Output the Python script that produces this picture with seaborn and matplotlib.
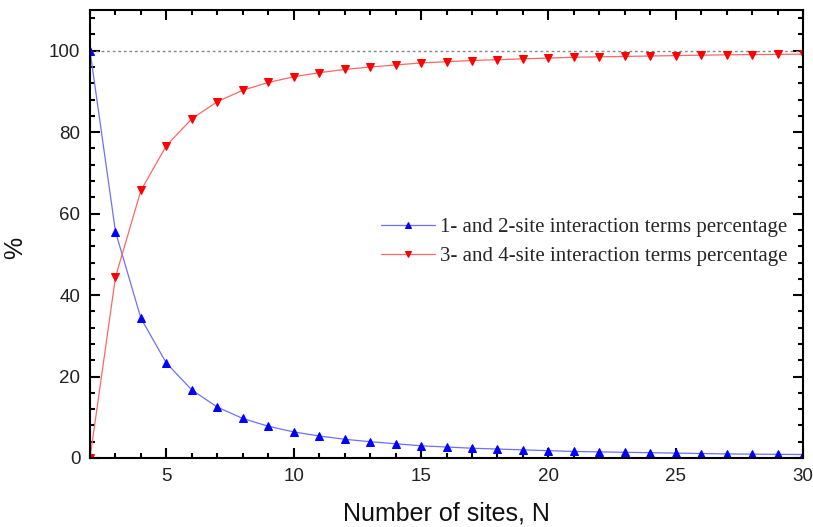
import matplotlib
matplotlib.use("Agg")
import matplotlib.pyplot as plt
import seaborn as sns
import pandas as pd
from matplotlib.ticker import MultipleLocator

sites = list(range(2, 31))
pct_12 = [100.0, 55.6, 34.3, 23.3, 16.7, 12.5, 9.7, 7.8, 6.4, 5.4, 4.6, 4.0, 3.5, 3.0,
          2.7, 2.4, 2.2, 2.0, 1.8, 1.6, 1.5, 1.4, 1.3, 1.2, 1.1, 1.0, 0.95, 0.9, 0.85]
pct_34 = [0.0, 44.4, 65.7, 76.7, 83.3, 87.5, 90.3, 92.2, 93.6, 94.6, 95.4, 96.0, 96.5, 97.0,
          97.3, 97.6, 97.8, 98.0, 98.2, 98.4, 98.5, 98.6, 98.7, 98.8, 98.9, 99.0, 99.05, 99.1, 99.15]
label_12 = "1- and 2-site interaction terms percentage"
label_34 = "3- and 4-site interaction terms percentage"

df = pd.DataFrame({"N": sites, "a": pct_12, "b": pct_34})

sns.set_style("ticks")
plt.rcParams['font.family'] = ['Liberation Sans', 'DejaVu Sans']

fig = plt.figure(figsize=(8.13, 5.27), dpi=100)
ax = fig.add_axes([90/813, 1-458/527, 713/813, 448/527])

ax.axhline(100, color="#888888", linestyle=(0, (2, 2)), linewidth=1.0, zorder=1)

sns.lineplot(data=df, x="N", y="a", ax=ax, color="#6f6fff", linewidth=0.9,
             marker="^", markersize=6.2, markerfacecolor="blue", markeredgecolor="blue",
             label=label_12)
sns.lineplot(data=df, x="N", y="b", ax=ax, color="#ff6666", linewidth=0.9,
             marker="v", markersize=6.2, markerfacecolor="red", markeredgecolor="red",
             label=label_34)

ax.set_xlim(2, 30)
ax.set_ylim(0, 110)
ax.xaxis.set_major_locator(MultipleLocator(5))
ax.xaxis.set_minor_locator(MultipleLocator(1))
ax.yaxis.set_major_locator(MultipleLocator(20))
ax.yaxis.set_minor_locator(MultipleLocator(4))
ax.tick_params(which="both", direction="in", top=True, right=True, width=1.5, color="black")
ax.tick_params(which="major", length=7.5, labelsize=13.5, pad=7, labelcolor="#222222")
ax.tick_params(which="minor", length=3.8)
for s in ax.spines.values():
    s.set_linewidth(1.5)
    s.set_color("black")

ax.set_xlabel("Number of sites, N", fontsize=18, labelpad=12, color="#111111")
ax.set_ylabel("%", fontsize=18, color="#111111")
ax.yaxis.set_label_coords(-0.088, 0.47)

leg = ax.legend(loc="center right", bbox_to_anchor=(0.99, 0.482), frameon=False,
                prop={"family": "Liberation Serif", "size": 15}, handlelength=2.6,
                handletextpad=0.25, labelspacing=0.45, borderaxespad=0, markerscale=0.8)

fig.savefig("out.png", dpi=100)
